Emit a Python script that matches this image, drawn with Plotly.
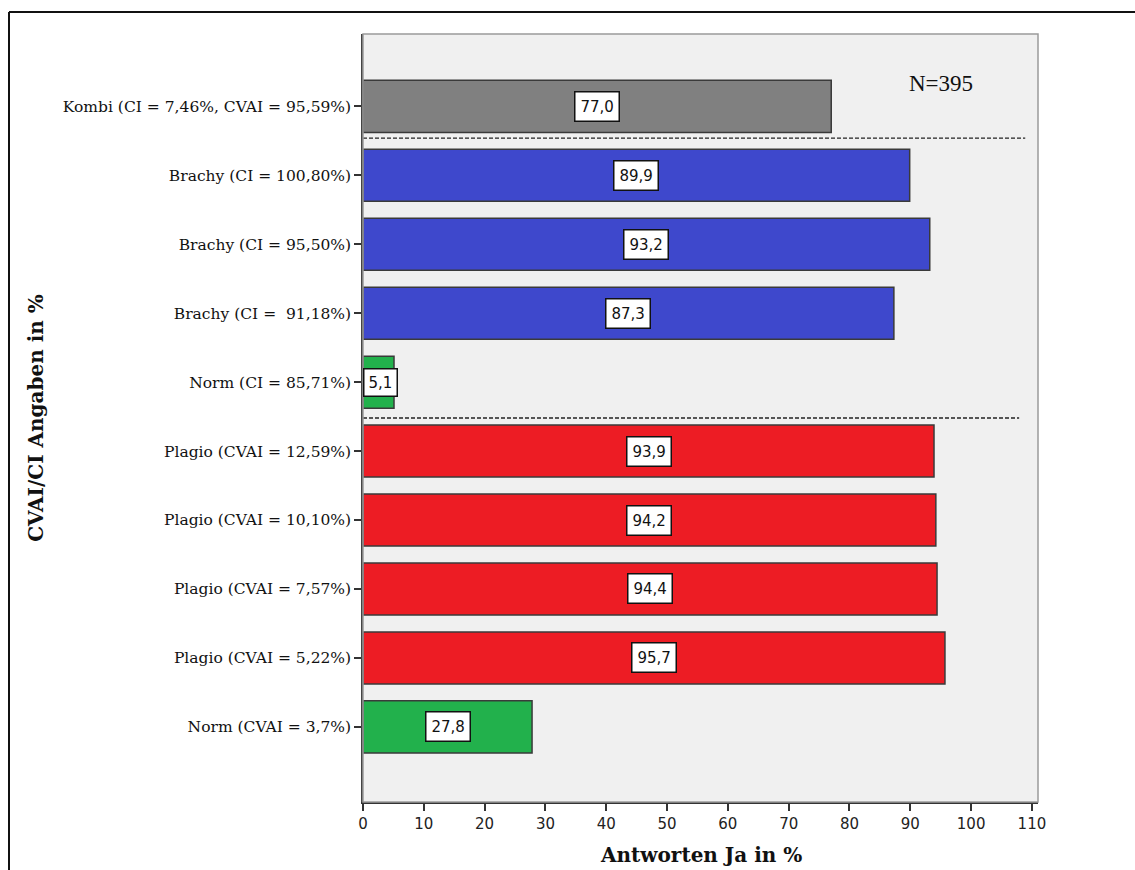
import plotly.graph_objects as go

categories = [
    "Kombi (CI = 7,46%, CVAI = 95,59%)",
    "Brachy (CI = 100,80%)",
    "Brachy (CI = 95,50%)",
    "Brachy (CI =  91,18%)",
    "Norm (CI = 85,71%)",
    "Plagio (CVAI = 12,59%)",
    "Plagio (CVAI = 10,10%)",
    "Plagio (CVAI = 7,57%)",
    "Plagio (CVAI = 5,22%)",
    "Norm (CVAI = 3,7%)",
]
values = [77.0, 89.9, 93.2, 87.3, 5.1, 93.9, 94.2, 94.4, 95.7, 27.8]
groups = ["Kombi", "Brachy", "Brachy", "Brachy", "Norm", "Plagio", "Plagio", "Plagio", "Plagio", "Norm"]
group_colors = {"Kombi": "#808080", "Brachy": "#3e48cc", "Norm": "#22b14c", "Plagio": "#ed1c24"}
x_ticks = [0, 10, 20, 30, 40, 50, 60, 70, 80, 90, 100, 110]
x_title = "Antworten Ja in %"
y_title = "CVAI/CI Angaben in %"

W, H = 1135, 870
L, R, T, B = 363, 1038, 34, 802

SERIF = "DejaVu Serif, Liberation Serif, serif"
SANS = "DejaVu Sans, Verdana, sans-serif"

pos = list(range(len(categories)))
px = lambda v: (v - L) / (R - L)
py = lambda v: (B - v) / (B - T)

fig = go.Figure()
fig.add_trace(go.Bar(
    x=values, y=pos, orientation="h", width=0.755,
    marker=dict(color=[group_colors[g] for g in groups],
                line=dict(color="#3a3a3a", width=1.5)),
    hoverinfo="skip", showlegend=False,
))

for v, p in zip(values, pos):
    small = v < 10
    fig.add_annotation(
        x=0 if small else v / 2, y=p, xref="x", yref="y",
        xanchor="left" if small else "center",
        text=f"{v:.1f}".replace(".", ","), showarrow=False,
        font=dict(family=SANS, size=15, color="#111"),
        bgcolor="white", bordercolor="#111", borderwidth=1.5,
        borderpad=5 if not small else 4,
    )

fig.add_annotation(
    x=px(975), y=py(69), xref="paper", yref="paper",
    text="N=395", showarrow=False,
    font=dict(family="Liberation Serif, Times New Roman, serif", size=23, color="#111"),
)

# x-axis title near the bottom edge like the original
fig.add_annotation(
    x=0.5, y=py(869), xref="paper", yref="paper", yanchor="bottom",
    text=f"<b>{x_title}</b>", showarrow=False,
    font=dict(family=SERIF, size=20, color="#111"),
)

# dashed separators
fig.add_shape(type="line", xref="x", yref="y", x0=0, x1=108.9, y0=0.46, y1=0.46,
              line=dict(color="#222", width=1.3, dash="4px,2px"))
fig.add_shape(type="line", xref="x", yref="y", x0=0, x1=107.9, y0=4.52, y1=4.52,
              line=dict(color="#222", width=1.3, dash="4px,2px"))

# plot frame (top/right gray)
fig.add_shape(type="rect", xref="paper", yref="paper", x0=0, x1=1, y0=0, y1=1,
              line=dict(color="#9a9a9a", width=1.5), layer="above")

# outer black frame of figure
fig.add_shape(type="line", xref="paper", yref="paper", x0=px(9), x1=px(1140), y0=py(12), y1=py(12),
              line=dict(color="#111", width=2))
fig.add_shape(type="line", xref="paper", yref="paper", x0=px(9), x1=px(9), y0=py(12), y1=py(880),
              line=dict(color="#111", width=2))

fig.update_layout(
    width=W, height=H,
    margin=dict(l=L, r=W - R, t=T, b=H - B, autoexpand=False),
    paper_bgcolor="white", plot_bgcolor="#f0f0f0",
    xaxis=dict(
        range=[0, 111], tickvals=x_ticks, ticktext=[str(t) for t in x_ticks],
        showgrid=False, zeroline=False, showline=True, linecolor="#333", linewidth=1.5,
        ticks="outside", ticklen=7, tickcolor="#333", tickwidth=1.5, automargin=False,
        tickfont=dict(family=SANS, size=15, color="#222"),
    ),
    yaxis=dict(
        range=[10.09, -1.05], tickvals=pos, ticktext=categories,
        showgrid=False, zeroline=False, showline=True, linecolor="#444", linewidth=1.5,
        ticks="outside", ticklen=7, tickcolor="#333", tickwidth=1.5, automargin=False,
        tickfont=dict(family=SERIF, size=15.5, color="#111"),
        title=dict(text=f"<b>{y_title}</b>", standoff=14,
                   font=dict(family=SERIF, size=20, color="#111")),
    ),
)

fig.write_html("out.html", config={"displayModeBar": False},
               post_script="document.body.style.margin='0px';document.body.style.overflow='hidden';")
